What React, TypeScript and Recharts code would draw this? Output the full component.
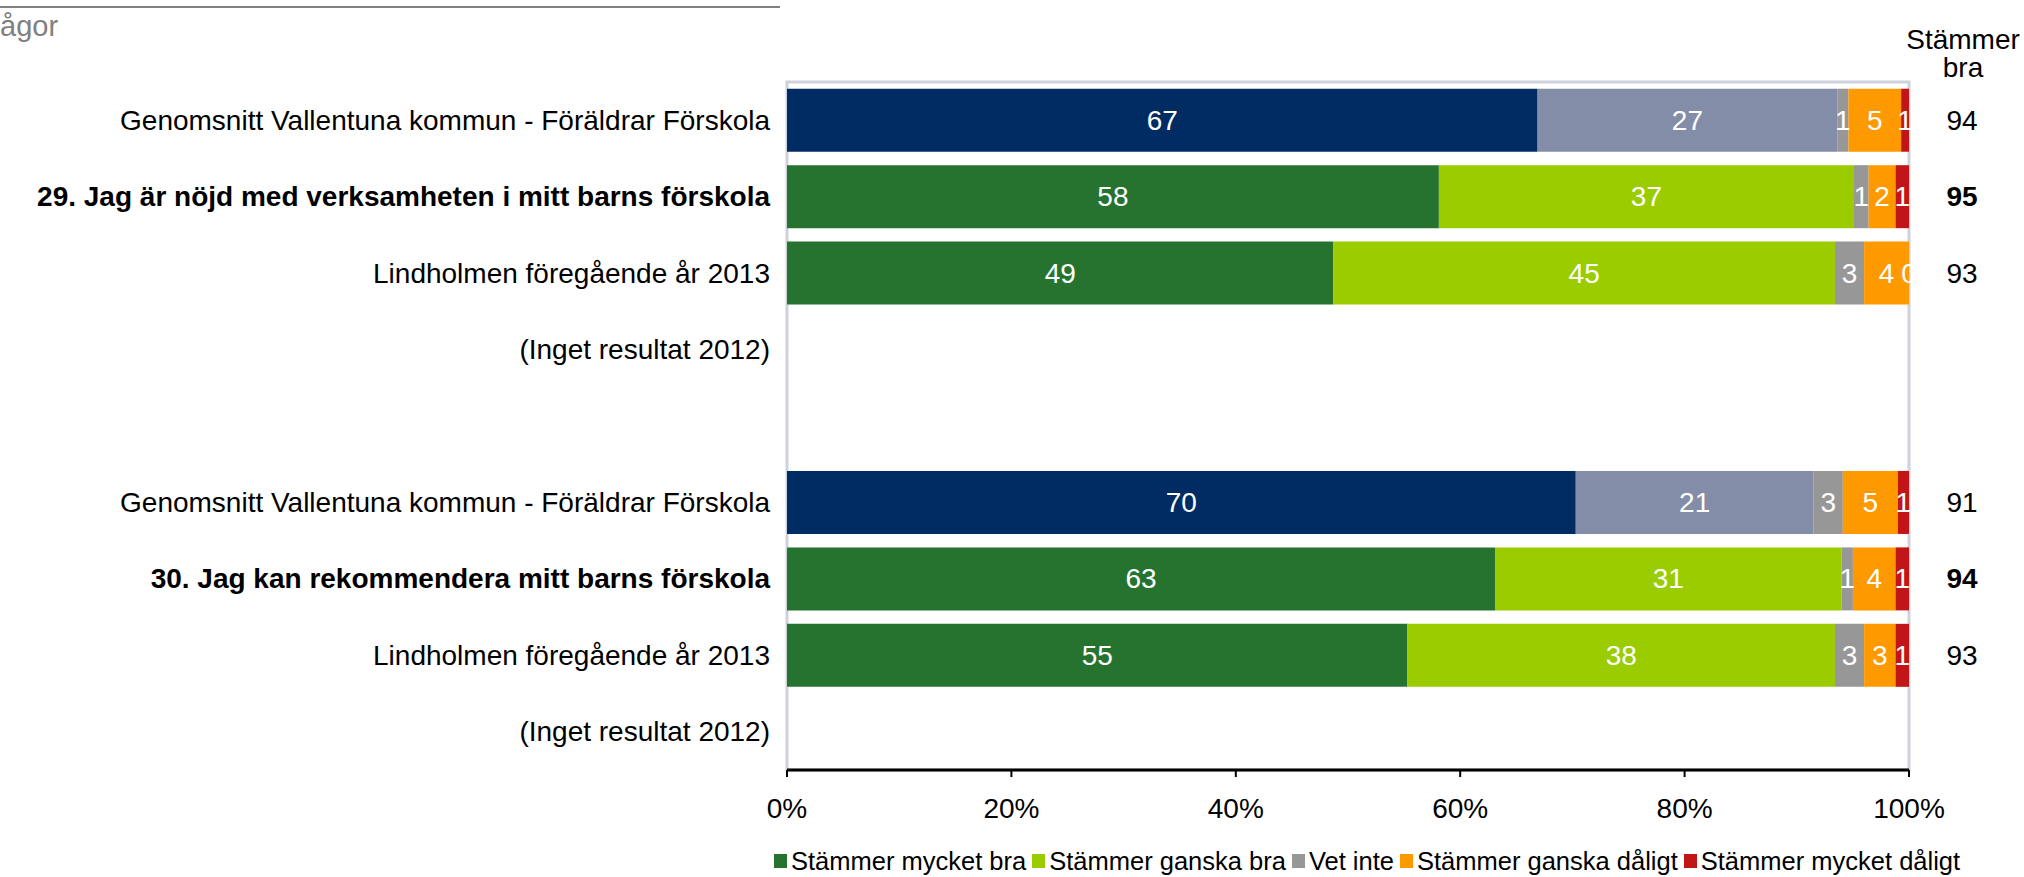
import React from "react";
import { BarChart, Bar, XAxis, YAxis, Cell, LabelList, ReferenceArea } from "recharts";

if (typeof document !== "undefined") document.body.style.margin = "0";

const rowLabels = [
  "Genomsnitt Vallentuna kommun - Föräldrar Förskola",
  "29. Jag är nöjd med verksamheten i mitt barns förskola",
  "Lindholmen föregående år 2013",
  "(Inget resultat 2012)",
  "",
  "Genomsnitt Vallentuna kommun - Föräldrar Förskola",
  "30. Jag kan rekommendera mitt barns förskola",
  "Lindholmen föregående år 2013",
  "(Inget resultat 2012)",
];
const boldRows = [1, 6];
const averageRows = [0, 5];

// percent shares per row (null = no result)
const mycketBra = [66.9, 58.1, 48.7, null, null, 70.3, 63.1, 55.3, null];
const ganskaBra = [26.7, 37.0, 44.7, null, null, 21.2, 30.9, 38.1, null];
const vetInte = [1.0, 1.3, 2.6, null, null, 2.6, 1.0, 2.6, null];
const ganskaDaligt = [4.7, 2.4, 4.0, null, null, 4.9, 3.8, 2.8, null];
const mycketDaligt = [0.7, 1.2, 0, null, null, 1.0, 1.2, 1.2, null];
const stammerBra = [94, 95, 93, null, null, 91, 94, 93, null];

const xTicks = [0, 20, 40, 60, 80, 100];

const series = [
  { key: "mb", name: "Stämmer mycket bra", color: "#267330", avgColor: "#012C63" },
  { key: "gb", name: "Stämmer ganska bra", color: "#9ACC00", avgColor: "#838DA8" },
  { key: "vi", name: "Vet inte", color: "#979797", avgColor: "#979797" },
  { key: "gd", name: "Stämmer ganska dåligt", color: "#FF9900", avgColor: "#FF9900" },
  { key: "md", name: "Stämmer mycket dåligt", color: "#C11517", avgColor: "#C11517" },
];

const data = rowLabels.map((_, i) => ({
  id: i,
  mb: mycketBra[i],
  gb: ganskaBra[i],
  vi: vetInte[i],
  gd: ganskaDaligt[i],
  md: mycketDaligt[i],
}));

const FONT = "'Liberation Sans', Arial, sans-serif";

const CategoryTick = (props: any) => {
  const { x, y, payload } = props;
  const i = Number(payload.value);
  return (
    <text
      x={x}
      y={y}
      textAnchor="end"
      dominantBaseline="central"
      fontSize={28}
      fontFamily={FONT}
      fontWeight={boldRows.includes(i) ? 700 : 400}
      fill="#000"
    >
      {rowLabels[i]}
    </text>
  );
};

const ValueTick = (props: any) => {
  const { x, y, payload } = props;
  const i = Number(payload.value);
  const v = stammerBra[i];
  if (v == null) return null;
  return (
    <text
      x={x + 53}
      y={y}
      textAnchor="middle"
      dominantBaseline="central"
      fontSize={28}
      fontFamily={FONT}
      fontWeight={boldRows.includes(i) ? 700 : 400}
      fill="#000"
    >
      {v}
    </text>
  );
};

const SegmentLabel = (props: any) => {
  const { x, y, width, height, value } = props;
  if (value == null) return null;
  return (
    <text
      x={x + width / 2}
      y={y + height / 2}
      textAnchor="middle"
      dominantBaseline="central"
      fontSize={28}
      fontFamily={FONT}
      fill="#fff"
    >
      {Math.round(value)}
    </text>
  );
};

// a zero-width segment draws no rect, so its "0" label is placed at the end of the previous segment
const ZeroLabel = (props: any) => {
  const { x, y, width, height, value } = props;
  if (value !== 0) return null;
  return (
    <text
      x={x + width}
      y={y + height / 2}
      textAnchor="middle"
      dominantBaseline="central"
      fontSize={28}
      fontFamily={FONT}
      fill="#fff"
    >
      {value}
    </text>
  );
};

export default function App() {
  return (
    <div style={{ position: "relative", width: 2024, height: 877, fontFamily: FONT, background: "#fff" }}>
      <BarChart
        width={2024}
        height={877}
        data={data}
        layout="vertical"
        margin={{ top: 82, right: 0, left: 0, bottom: 47 }}
        barCategoryGap="8.8%"
      >
        <XAxis
          type="number"
          domain={[0, 100]}
          ticks={xTicks}
          tickFormatter={(v: number) => `${v}%`}
          axisLine={{ stroke: "#000", strokeWidth: 3 }}
          tickLine={{ stroke: "#000", strokeWidth: 2 }}
          tickSize={7}
          tickMargin={21}
          height={60}
          tick={{ fontSize: 28, fill: "#000", fontFamily: FONT }}
        />
        <YAxis
          yAxisId="left"
          type="category"
          dataKey="id"
          width={787}
          interval={0}
          tickSize={0}
          tickMargin={17}
          axisLine={false}
          tickLine={false}
          tick={<CategoryTick />}
        />
        <YAxis
          yAxisId="right"
          orientation="right"
          type="category"
          dataKey="id"
          width={115}
          interval={0}
          tickSize={0}
          tickMargin={0}
          axisLine={false}
          tickLine={false}
          tick={<ValueTick />}
        />
        <ReferenceArea yAxisId="left" x1={0} x2={100} fill="none" stroke="#CDD2DC" strokeWidth={3} />
        {series.map((s, si) => (
          <Bar key={s.key} dataKey={s.key} name={s.name} stackId="a" yAxisId="left" fill={s.color} isAnimationActive={false}>
            {data.map((d) => (
              <Cell key={d.id} fill={averageRows.includes(d.id) ? s.avgColor : s.color} />
            ))}
            <LabelList dataKey={s.key} content={<SegmentLabel />} />
            {si === series.length - 2 && <LabelList dataKey={series[si + 1].key} content={<ZeroLabel />} />}
          </Bar>
        ))}
      </BarChart>

      <svg width={2024} height={877} style={{ position: "absolute", left: 0, top: 0, pointerEvents: "none" }}>
        <line x1={0} x2={780} y1={7} y2={7} stroke="#808080" strokeWidth={2} />
        <text x={0} y={36} fontSize={29} fill="#808080" fontFamily={FONT}>
          ågor
        </text>
        <text x={1963} y={49} textAnchor="middle" fontSize={28} fill="#000" fontFamily={FONT}>
          Stämmer
        </text>
        <text x={1963} y={77} textAnchor="middle" fontSize={28} fill="#000" fontFamily={FONT}>
          bra
        </text>
      </svg>

      <div
        style={{
          position: "absolute",
          left: 774,
          top: 846,
          height: 30,
          display: "flex",
          alignItems: "center",
          fontSize: 25.5,
          whiteSpace: "nowrap",
        }}
      >
        {series.map((s) => (
          <div key={s.key} style={{ display: "flex", alignItems: "center", marginRight: 6 }}>
            <span style={{ display: "inline-block", width: 13, height: 14, background: s.color, marginRight: 4 }} />
            <span>{s.name}</span>
          </div>
        ))}
      </div>
    </div>
  );
}
